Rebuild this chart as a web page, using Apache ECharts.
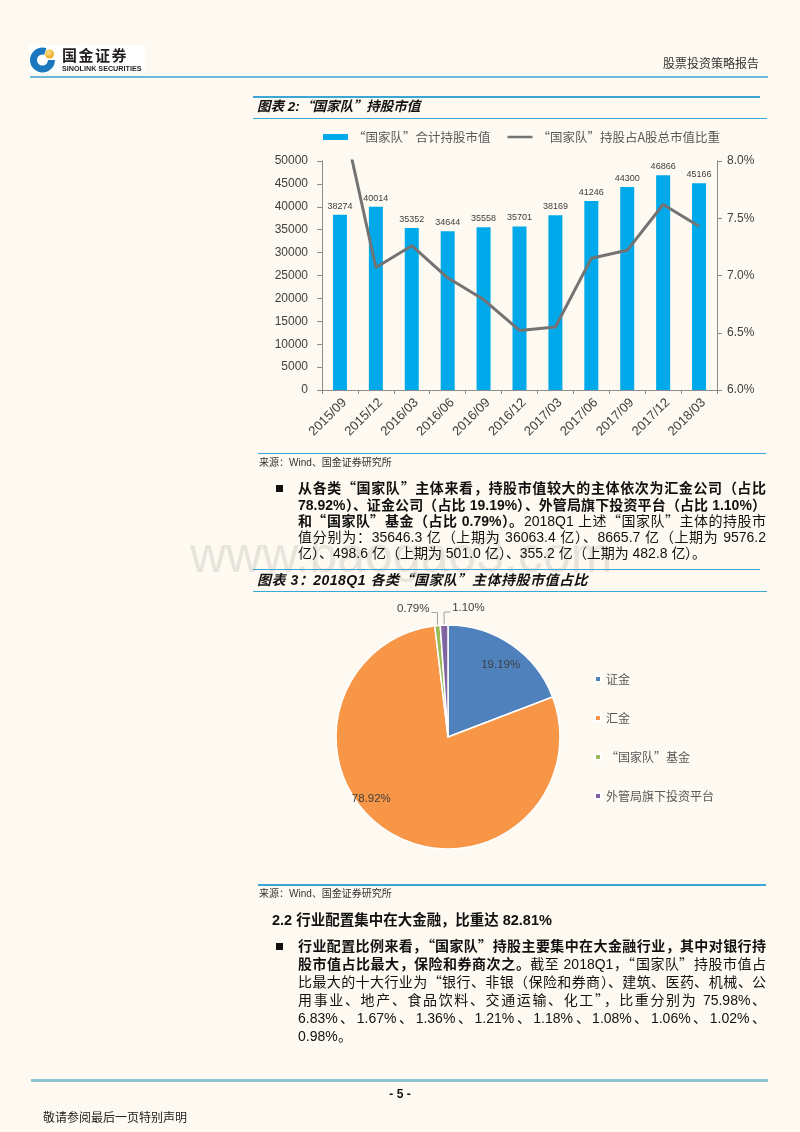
<!DOCTYPE html>
<html>
<head>
<meta charset="utf-8">
<script src="https://cdn.jsdelivr.net/npm/echarts@6.0.0/dist/echarts.min.js"></script>
<style>
@font-face{font-family:'CJKP';src:local('Noto Sans CJK SC'),local('Noto Sans CJK SC Regular'),local('NotoSansCJKsc-Regular');unicode-range:U+2018-201F,U+3000-303F,U+FF00-FFEF;font-weight:400;}
@font-face{font-family:'CJKP';src:local('Noto Sans CJK SC Bold'),local('NotoSansCJKsc-Bold');unicode-range:U+2018-201F,U+3000-303F,U+FF00-FFEF;font-weight:700;}
html,body{margin:0;padding:0;}
#page{position:relative;width:800px;height:1132px;background:#fefaf1;overflow:hidden;
  font-family:'CJKP','Liberation Sans','Noto Sans CJK SC',sans-serif;color:#111;}
.a{position:absolute;white-space:nowrap;}
.hl{position:absolute;height:1.5px;background:#3aa6d6;}
.ln{position:absolute;left:298px;width:468px;height:16px;line-height:16px;font-size:14px;white-space:nowrap;
  text-align:justify;text-align-last:justify;}
.ln.last{text-align:left;text-align-last:left;}
.b{font-weight:bold;}
.bul{position:absolute;width:7px;height:7px;background:#111;}
#chart{position:absolute;left:0;top:0;width:800px;height:1132px;z-index:1;}
.txt{z-index:2;}
</style>
</head>
<body>
<div id="page">
  <!-- watermark -->
  <div class="a" style="left:190px;top:524px;font-size:50px;line-height:62px;color:#e8e4dc;font-family:'Liberation Sans';z-index:0;">www.baogao3.com</div>

  <!-- header -->
  <div class="a txt" style="left:29px;top:45px;width:116px;height:28px;background:#ffffff;"></div>
  <svg class="a txt" style="left:29px;top:46px;" width="28" height="28" viewBox="0 0 28 28">
    <defs><radialGradient id="gd" cx="40%" cy="35%" r="70%"><stop offset="0" stop-color="#ffe08a"/><stop offset="1" stop-color="#e9a21a"/></radialGradient></defs>
    <circle cx="13.5" cy="14" r="9" fill="none" stroke="#1b78be" stroke-width="7" stroke-dasharray="45 11.5"/>
    <circle cx="20.5" cy="8" r="4.5" fill="url(#gd)"/>
  </svg>
  <div class="a txt" style="left:62px;top:46px;font-size:15px;line-height:18px;font-weight:bold;letter-spacing:1.5px;font-family:'Noto Sans CJK SC';color:#231f20;">国金证券</div>
  <div class="a txt" style="left:62px;top:64px;font-size:7.2px;line-height:9px;font-weight:bold;font-family:'Liberation Sans';color:#231f20;">SINOLINK SECURITIES</div>
  <div class="a txt" style="left:663px;top:55px;font-size:12px;line-height:16px;color:#333;font-family:'Noto Sans CJK SC';">股票投资策略报告</div>
  <div class="hl" style="left:30px;top:76px;width:738px;height:2px;background:#6ab7d9;"></div>

  <!-- chart 2 title -->
  <div class="hl" style="left:253px;top:96px;width:507px;"></div>
  <div class="a txt b" style="left:257px;top:98px;font-size:13.5px;line-height:18px;font-style:italic;">图表 2:“国家队”持股市值</div>
  <div class="hl" style="left:253px;top:117.5px;width:514px;"></div>

  <!-- source 1 -->
  <div class="hl" style="left:258px;top:452.5px;width:508px;"></div>
  <div class="a txt" style="left:259px;top:456px;font-size:10px;line-height:14px;color:#333;">来源：Wind、国金证券研究所</div>

  <!-- paragraph 1 -->
  <div class="bul" style="left:276px;top:484.5px;"></div>
  <div class="ln txt" style="top:480px;"><span class="b">从各类“国家队”主体来看，持股市值较大的主体依次为汇金公司（占比</span></div>
  <div class="ln txt" style="top:496.5px;"><span class="b">78.92%）、证金公司（占比 19.19%）、外管局旗下投资平台（占比 1.10%）</span></div>
  <div class="ln txt" style="top:513px;"><span class="b">和“国家队”基金（占比 0.79%）。</span>2018Q1 上述“国家队”主体的持股市</div>
  <div class="ln txt" style="top:529px;">值分别为：35646.3 亿（上期为 36063.4 亿）、8665.7 亿（上期为 9576.2</div>
  <div class="ln txt last" style="top:545px;">亿）、498.6 亿（上期为 501.0 亿）、355.2 亿（上期为 482.8 亿）。</div>

  <!-- chart 3 title -->
  <div class="hl" style="left:253px;top:568.5px;width:507px;"></div>
  <div class="a txt b" style="left:257px;top:571px;font-size:14px;line-height:18px;font-style:italic;letter-spacing:0.5px;">图表 3：2018Q1 各类“国家队”主体持股市值占比</div>
  <div class="hl" style="left:253px;top:590.5px;width:514px;"></div>

  <!-- source 2 -->
  <div class="hl" style="left:258px;top:884px;width:508px;"></div>
  <div class="a txt" style="left:259px;top:887px;font-size:10px;line-height:14px;color:#333;">来源：Wind、国金证券研究所</div>

  <!-- section 2.2 -->
  <div class="a txt b" style="left:272px;top:911px;font-size:14.5px;line-height:18px;">2.2 行业配置集中在大金融，比重达 82.81%</div>

  <!-- paragraph 2 -->
  <div class="bul" style="left:276px;top:942.5px;"></div>
  <div class="ln txt" style="top:938px;"><span class="b">行业配置比例来看，“国家队”持股主要集中在大金融行业，其中对银行持</span></div>
  <div class="ln txt" style="top:956px;"><span class="b">股市值占比最大，保险和券商次之。</span>截至 2018Q1，“国家队”持股市值占</div>
  <div class="ln txt" style="top:974px;">比最大的十大行业为“银行、非银（保险和券商）、建筑、医药、机械、公</div>
  <div class="ln txt" style="top:992px;">用事业、地产、食品饮料、交通运输、化工”，比重分别为 75.98%、</div>
  <div class="ln txt" style="top:1010px;">6.83%、1.67%、1.36%、1.21%、1.18%、1.08%、1.06%、1.02%、</div>
  <div class="ln txt last" style="top:1028px;">0.98%。</div>

  <!-- footer -->
  <div class="hl" style="left:31px;top:1079px;width:737px;height:3px;background:#8fc4d7;"></div>
  <div class="a txt b" style="left:380px;top:1086px;width:40px;text-align:center;font-size:12px;line-height:16px;font-family:'Liberation Sans';">- 5 -</div>
  <div class="a txt" style="left:43px;top:1109px;font-size:12px;line-height:16px;color:#222;font-family:'Noto Sans CJK SC';">敬请参阅最后一页特别声明</div>

  <div id="chart"></div>
</div>

<script>
// ---- data: chart 2 ----
const categories = ['2015/09','2015/12','2016/03','2016/06','2016/09','2016/12','2017/03','2017/06','2017/09','2017/12','2018/03'];
const holdingValue = [38274, 40014, 35352, 34644, 35558, 35701, 38169, 41246, 44300, 46866, 45166];
const holdingRatio = [8.49, 7.07, 7.26, 6.98, 6.79, 6.52, 6.55, 7.15, 7.22, 7.62, 7.43];
const rightTickLabels = ['6.0%', '6.5%', '7.0%', '7.5%', '8.0%'];
const barName = '“国家队”合计持股市值';
const lineName = '“国家队”持股占A股总市值比重';

// ---- data: chart 3 ----
const pieNames = ['证金', '汇金', '“国家队”基金', '外管局旗下投资平台'];
const pieValues = [19.19, 78.92, 0.79, 1.10];

// ---- styles ----
const pieColors = ['#4f81bd', '#f79646', '#9bbb59', '#8064a2'];
const LATIN = "'Liberation Sans', 'Noto Sans CJK SC', sans-serif";
const CJK = "'Noto Sans CJK SC', sans-serif";
const AXIS = '#8c8c8c';
const LBL = '#404040';
const PIE_C = [448, 737];
const PIE_R = 112;
const LINE_ICON = 'path://M0,0L0.01,0ZM0,1.6L28,1.6L28,4.4L0,4.4ZM0,6L0.01,6Z';

const pieTotal = pieValues.reduce((s, v) => s + v, 0);
function midAngle(i) {
  let cum = 0;
  for (let k = 0; k < i; k++) cum += pieValues[k];
  return (cum + pieValues[i] / 2) / pieTotal * Math.PI * 2; // from 12 o'clock, clockwise
}
// inside-label placement: radius fraction and angular shift (deg)
const insidePlace = { 0: [0.8, 1.5], 1: [0.88, 20] };

const chart = echarts.init(document.getElementById('chart'), null, { renderer: 'canvas' });
chart.setOption({
  animation: false,
  backgroundColor: 'transparent',
  textStyle: { fontFamily: LATIN },
  legend: [
    {
      left: 323, top: 130, padding: 0, itemGap: 17, itemWidth: 25, itemHeight: 6,
      textStyle: { fontFamily: CJK, fontSize: 12.5, color: '#595959', lineHeight: 14 },
      data: [{ name: barName, icon: 'rect' }, { name: lineName, icon: LINE_ICON }]
    },
    {
      orient: 'vertical', left: 594, top: 672, padding: 0, itemGap: 25, itemWidth: 6, itemHeight: 6,
      icon: 'rect',
      textStyle: { fontFamily: CJK, fontSize: 12, color: '#595959', lineHeight: 14 },
      data: pieNames
    }
  ],
  grid: { left: 322, right: 83, top: 161, bottom: 742, containLabel: false, outerBoundsMode: 'none' },
  xAxis: {
    type: 'category', data: categories, boundaryGap: true,
    axisLine: { show: true, lineStyle: { color: AXIS, width: 1 } },
    axisTick: { show: true, alignWithLabel: false, length: 4, lineStyle: { color: AXIS } },
    axisLabel: { interval: 0, rotate: 45, fontSize: 13, color: LBL, margin: 6, verticalAlign: 'top', fontFamily: LATIN },
    splitLine: { show: false }
  },
  yAxis: [
    {
      type: 'value', min: 0, max: 50000, interval: 5000, position: 'left',
      axisLine: { show: true, lineStyle: { color: AXIS } },
      axisTick: { show: true, length: 5, lineStyle: { color: AXIS } },
      axisLabel: { fontSize: 12, color: LBL, margin: 14, fontFamily: LATIN, formatter: v => String(v) },
      splitLine: { show: false }
    },
    {
      type: 'value', min: 6, max: 8, interval: 0.5, position: 'right',
      axisLine: { show: true, lineStyle: { color: AXIS } },
      axisTick: { show: true, length: 5, lineStyle: { color: AXIS } },
      axisLabel: { fontSize: 12, color: LBL, margin: 10, fontFamily: LATIN,
        formatter: (v, i) => rightTickLabels[i] },
      splitLine: { show: false }
    }
  ],
  series: [
    {
      type: 'bar', name: barName, data: holdingValue, barWidth: 14,
      itemStyle: { color: '#00a9e9', borderRadius: 0 },
      label: { show: true, position: 'top', distance: 4, fontSize: 9, color: LBL, fontFamily: LATIN }
    },
    {
      type: 'line', name: lineName, yAxisIndex: 1, data: holdingRatio, symbol: 'none', showSymbol: false,
      clip: true, z: 3,
      lineStyle: { color: '#737373', width: 3 }, itemStyle: { color: '#737373' }
    },
    {
      type: 'pie', center: PIE_C, radius: PIE_R, startAngle: 90, clockwise: true,
      avoidLabelOverlap: false,
      itemStyle: { borderColor: '#ffffff', borderWidth: 1.5, borderRadius: 0 },
      label: {
        show: true, fontSize: 11.5, color: LBL, fontFamily: LATIN,
        formatter: p => p.value.toFixed(2) + '%'
      },
      labelLine: { show: true, length: 10, length2: 6, smooth: false, lineStyle: { color: '#a0a0a0', width: 1 } },
      data: pieNames.map((n, i) => ({
        name: n, value: pieValues[i],
        itemStyle: { color: pieColors[i] },
        label: { position: i < 2 ? 'inside' : 'outside' },
        labelLine: { show: i >= 2 }
      })),
      labelLayout: function (p) {
        const i = p.dataIndex;
        const a = midAngle(i);
        if (insidePlace[i]) {
          const f = insidePlace[i][0];
          const aa = a + insidePlace[i][1] * Math.PI / 180;
          return {
            x: PIE_C[0] + f * PIE_R * Math.sin(aa),
            y: PIE_C[1] - f * PIE_R * Math.cos(aa),
            align: 'center', verticalAlign: 'middle'
          };
        }
        const p0 = [PIE_C[0] + PIE_R * Math.sin(a), PIE_C[1] - PIE_R * Math.cos(a)];
        const dir = i === 2 ? -1 : 1;
        const elbow = [p0[0], p0[1] - 13];
        const end = [p0[0] + dir * 6, p0[1] - 13];
        return {
          x: p0[0] + dir * 8, y: p0[1] - 17,
          align: dir < 0 ? 'right' : 'left', verticalAlign: 'middle',
          labelLinePoints: [p0, elbow, end]
        };
      }
    }
  ]
});
</script>
</body>
</html>
